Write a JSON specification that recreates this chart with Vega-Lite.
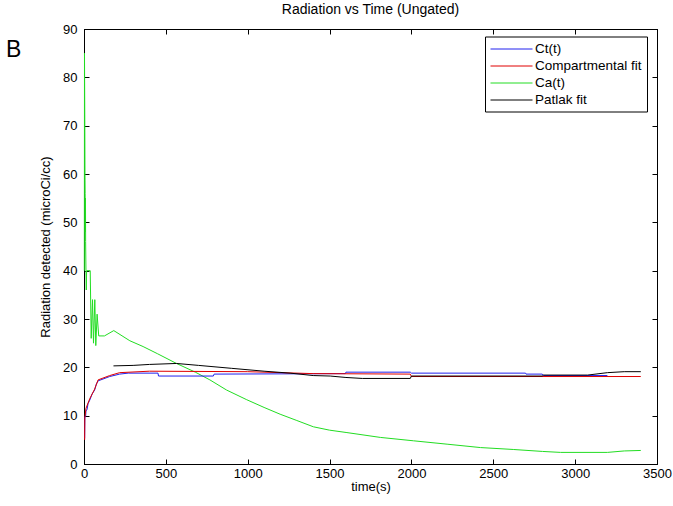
{
  "$schema": "https://vega.github.io/schema/vega-lite/v6.json",
  "autosize": "none",
  "width": 573,
  "height": 435,
  "padding": {"left": 84, "top": 29, "right": 16, "bottom": 42},
  "background": "white",
  "config": {
    "font": "Liberation Sans",
    "view": {"stroke": "black", "strokeWidth": 1},
    "axis": {
      "domainColor": "black",
      "tickColor": "black",
      "labelColor": "black",
      "titleColor": "black",
      "labelFont": "Liberation Sans",
      "titleFont": "Liberation Sans",
      "labelFontSize": 13,
      "titleFontSize": 13,
      "titleFontWeight": "normal",
      "grid": false,
      "tickSize": -5,
      "labelFlush": false
    },
    "title": {"font": "Liberation Sans", "fontSize": 14, "fontWeight": "normal", "color": "black"}
  },
  "title": {"text": "Radiation vs Time (Ungated)", "offset": 6},
  "data": {
    "values": [
      {"s": "Ca(t)", "t": 2, "v": 40},
      {"s": "Ca(t)", "t": 3, "v": 85},
      {"s": "Ca(t)", "t": 5, "v": 70},
      {"s": "Ca(t)", "t": 6, "v": 60},
      {"s": "Ca(t)", "t": 7, "v": 56},
      {"s": "Ca(t)", "t": 8, "v": 48},
      {"s": "Ca(t)", "t": 9, "v": 55},
      {"s": "Ca(t)", "t": 10, "v": 46},
      {"s": "Ca(t)", "t": 12, "v": 40},
      {"s": "Ca(t)", "t": 14, "v": 36},
      {"s": "Ca(t)", "t": 16, "v": 40},
      {"s": "Ca(t)", "t": 38, "v": 40},
      {"s": "Ca(t)", "t": 44, "v": 26},
      {"s": "Ca(t)", "t": 52, "v": 34},
      {"s": "Ca(t)", "t": 58, "v": 25},
      {"s": "Ca(t)", "t": 66, "v": 34},
      {"s": "Ca(t)", "t": 72, "v": 24.5},
      {"s": "Ca(t)", "t": 80, "v": 31},
      {"s": "Ca(t)", "t": 90, "v": 26.5},
      {"s": "Ca(t)", "t": 125, "v": 26.5},
      {"s": "Ca(t)", "t": 182, "v": 27.6},
      {"s": "Ca(t)", "t": 280, "v": 25.5},
      {"s": "Ca(t)", "t": 361, "v": 24.3},
      {"s": "Ca(t)", "t": 450, "v": 22.8},
      {"s": "Ca(t)", "t": 565, "v": 20.8},
      {"s": "Ca(t)", "t": 680, "v": 19},
      {"s": "Ca(t)", "t": 769, "v": 17.4},
      {"s": "Ca(t)", "t": 871, "v": 15.3},
      {"s": "Ca(t)", "t": 994, "v": 13.3},
      {"s": "Ca(t)", "t": 1100, "v": 11.7},
      {"s": "Ca(t)", "t": 1198, "v": 10.3},
      {"s": "Ca(t)", "t": 1300, "v": 9},
      {"s": "Ca(t)", "t": 1401, "v": 7.7},
      {"s": "Ca(t)", "t": 1500, "v": 7},
      {"s": "Ca(t)", "t": 1606, "v": 6.5},
      {"s": "Ca(t)", "t": 1810, "v": 5.5},
      {"s": "Ca(t)", "t": 2013, "v": 4.8},
      {"s": "Ca(t)", "t": 2218, "v": 4.1},
      {"s": "Ca(t)", "t": 2422, "v": 3.4},
      {"s": "Ca(t)", "t": 2625, "v": 3.0},
      {"s": "Ca(t)", "t": 2800, "v": 2.6},
      {"s": "Ca(t)", "t": 2911, "v": 2.4},
      {"s": "Ca(t)", "t": 3197, "v": 2.4},
      {"s": "Ca(t)", "t": 3300, "v": 2.7},
      {"s": "Ca(t)", "t": 3401, "v": 2.8},

      {"s": "Ct(t)", "t": 4, "v": 5.3},
      {"s": "Ct(t)", "t": 5, "v": 9.8},
      {"s": "Ct(t)", "t": 10, "v": 9.8},
      {"s": "Ct(t)", "t": 12, "v": 11},
      {"s": "Ct(t)", "t": 18, "v": 11.2},
      {"s": "Ct(t)", "t": 25, "v": 12.5},
      {"s": "Ct(t)", "t": 35, "v": 13.2},
      {"s": "Ct(t)", "t": 50, "v": 14.5},
      {"s": "Ct(t)", "t": 65, "v": 15.3},
      {"s": "Ct(t)", "t": 75, "v": 16.5},
      {"s": "Ct(t)", "t": 86, "v": 17.2},
      {"s": "Ct(t)", "t": 110, "v": 17.5},
      {"s": "Ct(t)", "t": 157, "v": 18.1},
      {"s": "Ct(t)", "t": 218, "v": 18.6},
      {"s": "Ct(t)", "t": 270, "v": 18.8},
      {"s": "Ct(t)", "t": 452, "v": 18.8},
      {"s": "Ct(t)", "t": 455, "v": 18.2},
      {"s": "Ct(t)", "t": 790, "v": 18.2},
      {"s": "Ct(t)", "t": 795, "v": 18.6},
      {"s": "Ct(t)", "t": 1596, "v": 18.7},
      {"s": "Ct(t)", "t": 1600, "v": 19.0},
      {"s": "Ct(t)", "t": 1993, "v": 19.0},
      {"s": "Ct(t)", "t": 2000, "v": 18.8},
      {"s": "Ct(t)", "t": 2697, "v": 18.8},
      {"s": "Ct(t)", "t": 2700, "v": 18.6},
      {"s": "Ct(t)", "t": 2799, "v": 18.6},
      {"s": "Ct(t)", "t": 2805, "v": 18.3},
      {"s": "Ct(t)", "t": 3197, "v": 18.3},

      {"s": "Compartmental fit", "t": 4, "v": 5},
      {"s": "Compartmental fit", "t": 5, "v": 9.5},
      {"s": "Compartmental fit", "t": 12, "v": 11.5},
      {"s": "Compartmental fit", "t": 35, "v": 13.5},
      {"s": "Compartmental fit", "t": 65, "v": 15.5},
      {"s": "Compartmental fit", "t": 86, "v": 17.4},
      {"s": "Compartmental fit", "t": 157, "v": 18.3},
      {"s": "Compartmental fit", "t": 218, "v": 18.9},
      {"s": "Compartmental fit", "t": 400, "v": 19.2},
      {"s": "Compartmental fit", "t": 1000, "v": 19.1},
      {"s": "Compartmental fit", "t": 1200, "v": 18.9},
      {"s": "Compartmental fit", "t": 1400, "v": 18.7},
      {"s": "Compartmental fit", "t": 1993, "v": 18.6},
      {"s": "Compartmental fit", "t": 2000, "v": 18.1},
      {"s": "Compartmental fit", "t": 3401, "v": 18.1},

      {"s": "Patlak fit", "t": 180, "v": 20.3},
      {"s": "Patlak fit", "t": 300, "v": 20.4},
      {"s": "Patlak fit", "t": 400, "v": 20.6},
      {"s": "Patlak fit", "t": 565, "v": 20.8},
      {"s": "Patlak fit", "t": 700, "v": 20.4},
      {"s": "Patlak fit", "t": 900, "v": 19.8},
      {"s": "Patlak fit", "t": 1100, "v": 19.2},
      {"s": "Patlak fit", "t": 1259, "v": 18.8},
      {"s": "Patlak fit", "t": 1400, "v": 18.3},
      {"s": "Patlak fit", "t": 1504, "v": 18.2},
      {"s": "Patlak fit", "t": 1600, "v": 17.9},
      {"s": "Patlak fit", "t": 1700, "v": 17.7},
      {"s": "Patlak fit", "t": 1993, "v": 17.7},
      {"s": "Patlak fit", "t": 2000, "v": 18.2},
      {"s": "Patlak fit", "t": 2799, "v": 18.2},
      {"s": "Patlak fit", "t": 2805, "v": 18.4},
      {"s": "Patlak fit", "t": 3076, "v": 18.4},
      {"s": "Patlak fit", "t": 3198, "v": 18.9},
      {"s": "Patlak fit", "t": 3300, "v": 19.1},
      {"s": "Patlak fit", "t": 3401, "v": 19.1}
    ]
  },
  "layer": [
    {
      "mark": {"type": "line", "strokeWidth": 1, "interpolate": "linear"},
      "encoding": {
        "x": {
          "field": "t", "type": "quantitative",
          "scale": {"domain": [0, 3500], "nice": false, "zero": false},
          "axis": {"title": "time(s)", "values": [0, 500, 1000, 1500, 2000, 2500, 3000, 3500], "format": "d", "labelPadding": 8, "titlePadding": 0}
        },
        "y": {
          "field": "v", "type": "quantitative",
          "scale": {"domain": [0, 90], "nice": false},
          "axis": {"title": "Radiation detected (microCi/cc)", "values": [0, 10, 20, 30, 40, 50, 60, 70, 80, 90], "labelPadding": 12, "titlePadding": 10}
        },
        "color": {
          "field": "s", "type": "nominal",
          "scale": {
            "domain": ["Ct(t)", "Compartmental fit", "Ca(t)", "Patlak fit"],
            "range": ["#2020ee", "#e00000", "#22dd22", "#000000"]
          },
          "legend": {
            "title": null,
            "orient": "none",
            "legendX": 401,
            "legendY": 7.5,
            "symbolType": "M-1,0H5",
            "symbolSize": 196,
            "symbolStrokeWidth": 1,
            "symbolFillColor": "transparent",
            "symbolOpacity": 1,
            "labelFontSize": 13.5,
            "labelFont": "Liberation Sans",
            "labelColor": "black",
            "fillColor": "white",
            "strokeColor": "black",
            "padding": 5,
            "rowPadding": 3,
            "labelOffset": 30
          }
        },
        "order": {"field": "t", "type": "quantitative"}
      }
    },
    {
      "mark": {"type": "line", "opacity": 0},
      "encoding": {
        "x": {"field": "t", "type": "quantitative", "axis": {"orient": "top", "labels": false, "title": null, "values": [0, 500, 1000, 1500, 2000, 2500, 3000, 3500]}},
        "y": {"field": "v", "type": "quantitative", "axis": {"orient": "right", "labels": false, "title": null, "values": [0, 10, 20, 30, 40, 50, 60, 70, 80, 90]}},
        "detail": {"field": "s"}
      }
    },
    {
      "data": {"values": [{"label": "B", "t": -430, "v": 85.7}]},
      "mark": {"type": "text", "fontSize": 23, "font": "Liberation Sans", "color": "black", "align": "center", "baseline": "middle"},
      "encoding": {
        "x": {"field": "t", "type": "quantitative", "axis": null},
        "y": {"field": "v", "type": "quantitative", "axis": null},
        "text": {"field": "label"}
      }
    }
  ],
  "resolve": {"axis": {"x": "independent", "y": "independent"}}
}
